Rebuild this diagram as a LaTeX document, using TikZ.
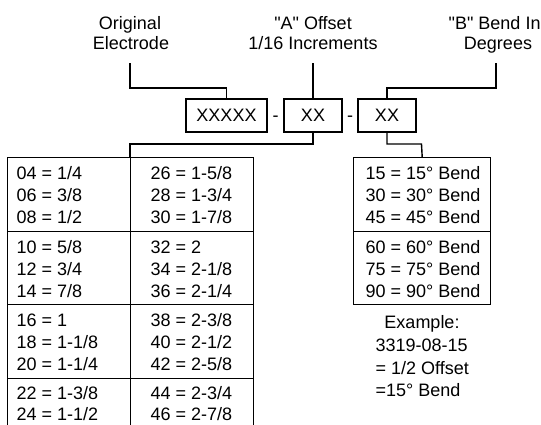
\documentclass[tikz,border=0pt]{standalone}
\usepackage{fontspec}
\setmainfont{Liberation Sans}
\newcommand{\fs}{\fontsize{18}{22}\selectfont}
\begin{document}
\begin{tikzpicture}[x=1pt,y=-1pt,line width=1.4pt,
  lbl/.style={font=\fs,inner sep=0,anchor=base},
  ltxt/.style={font=\fs,inner sep=0,anchor=base west},
  ctxt/.style={font=\fs,inner sep=0,anchor=base},
  codebox/.style={draw,minimum height=33,inner sep=0,font=\fs},
  cell/.style={draw,anchor=north west,inner sep=0,minimum width=123,minimum height=73.5},
  bcell/.style={draw,anchor=north west,inner sep=0,minimum width=137,minimum height=73.5}]
\useasboundingbox (0,0) rectangle (541,424);
\clip (0,0) rectangle (541,424);
% header labels
\node[lbl] (l1a) at (130,29.5) {Original};
\node[lbl] (l1b) at (131,49.5) {Electrode};
\node[lbl] (l2a) at (313,29.5) {\textquotedbl A\textquotedbl{} Offset};
\node[lbl] (l2b) at (313,49.5) {1/16 Increments};
\node[ltxt] (l3a) at (448,29.5) {\textquotedbl B\textquotedbl{} Bend In};
\node[lbl] (l3b) at (498,49.5) {Degrees};
% code boxes
\node[codebox,minimum width=81] (boxE) at (226.5,115.5) {XXXXX};
\node[codebox,minimum width=58] (boxA) at (313,115.5) {XX};
\node[codebox,minimum width=58] (boxB) at (387,115.5) {XX};
\node[lbl] (d1) at (275.5,121) {-};
\node[lbl] (d2) at (350,121) {-};
% offset table cells
\node[cell] (cL1) at (7,157) {};
\node[cell] (cL2) at (7,230.5) {};
\node[cell] (cL3) at (7,304) {};
\node[cell] (cL4) at (7,377.5) {};
\node[cell] (cR1) at (130,157) {};
\node[cell] (cR2) at (130,230.5) {};
\node[cell] (cR3) at (130,304) {};
\node[cell] (cR4) at (130,377.5) {};
% bend table cells
\node[bcell] (bc1) at (353,157) {};
\node[bcell] (bc2) at (353,230.5) {};
% offset texts
\node[ltxt] (o04) at (16,179.5) {04 = 1/4};
\node[ltxt] (o06) at (16,201.5) {06 = 3/8};
\node[ltxt] (o08) at (16,223.5) {08 = 1/2};
\node[ltxt] (o10) at (16,253) {10 = 5/8};
\node[ltxt] (o12) at (16,275) {12 = 3/4};
\node[ltxt] (o14) at (16,297) {14 = 7/8};
\node[ltxt] (o16) at (16,326.5) {16 = 1};
\node[ltxt] (o18) at (16,348.5) {18 = 1-1/8};
\node[ltxt] (o20) at (16,370.5) {20 = 1-1/4};
\node[ltxt] (o22) at (16,399) {22 = 1-3/8};
\node[ltxt] (o24) at (16,420) {24 = 1-1/2};
\node[ltxt] (o26) at (150,179.5) {26 = 1-5/8};
\node[ltxt] (o28) at (150,201.5) {28 = 1-3/4};
\node[ltxt] (o30) at (150,223.5) {30 = 1-7/8};
\node[ltxt] (o32) at (150,253) {32 = 2};
\node[ltxt] (o34) at (150,275) {34 = 2-1/8};
\node[ltxt] (o36) at (150,297) {36 = 2-1/4};
\node[ltxt] (o38) at (150,326.5) {38 = 2-3/8};
\node[ltxt] (o40) at (150,348.5) {40 = 2-1/2};
\node[ltxt] (o42) at (150,370.5) {42 = 2-5/8};
\node[ltxt] (o44) at (150,399) {44 = 2-3/4};
\node[ltxt] (o46) at (150,420) {46 = 2-7/8};
% bend texts
\node[ctxt] (b15) at (423,179.5) {15 = 15° Bend};
\node[ctxt] (b30) at (423,201.5) {30 = 30° Bend};
\node[ctxt] (b45) at (423,223.5) {45 = 45° Bend};
\node[ctxt] (b60) at (423,253) {60 = 60° Bend};
\node[ctxt] (b75) at (423,275) {75 = 75° Bend};
\node[ctxt] (b90) at (423,297) {90 = 90° Bend};
% example
\node[ctxt] (ex1) at (422,328.5) {Example:};
\node[ltxt] (ex2) at (375,351.5) {3319-08-15};
\node[ltxt] (ex3) at (375,374.5) {= 1/2 Offset};
\node[ltxt] (ex4) at (375,396.5) {=15° Bend};
% connector points
\coordinate (eTop) at (130,63);
\coordinate (eBend) at (130,88);
\coordinate (aTop) at (313,63);
\coordinate (bTop) at (496,63);
\coordinate (bBend) at (496,88);
\coordinate (aJoin) at (130,144);
\coordinate (bJoin) at (421.5,144);
% connectors
\draw (eTop) -- (eBend) -| (boxE.north);
\draw (aTop) -- (boxA.north);
\draw (bTop) -- (bBend) -| (boxB.north);
\draw (boxA.south) |- (aJoin) -- (cR1.north west);
\draw (boxB.south) |- (bJoin) -- (bc1.north);
\end{tikzpicture}
\end{document}
